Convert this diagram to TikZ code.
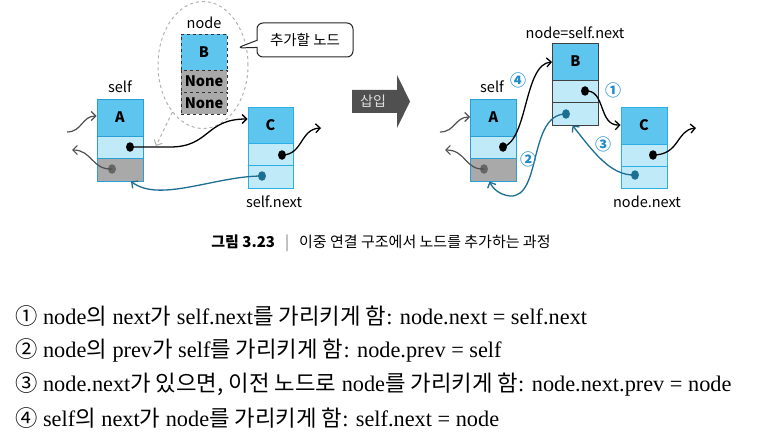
\documentclass[tikz,border=0pt]{standalone}
\usepackage{fontspec}
\setmainfont{Liberation Serif}
\newfontfamily\krf{Noto Sans CJK KR}
\newfontfamily\dg{Noto Sans CJK KR}
\usetikzlibrary{arrows.meta,shapes.geometric,shapes.callouts,calc}
\definecolor{topblue}{HTML}{5EC6EE}
\definecolor{midblue}{HTML}{C0EAF8}
\definecolor{cellgray}{HTML}{A9A9A9}
\definecolor{bordblue}{HTML}{2A9ED6}
\definecolor{bordcyan}{HTML}{2AB0E6}
\definecolor{tealc}{HTML}{1C6E92}
\definecolor{darkl}{HTML}{505050}
\definecolor{insg}{HTML}{505050}
\definecolor{numblue}{HTML}{1F8CC6}
\newcommand\K[1]{{\krf #1}}
\begin{document}
\begin{tikzpicture}[x=1pt,y=-1pt,
  cellbase/.style={rectangle, minimum width=46pt, inner sep=0pt, line width=0.9pt, draw=#1, font=\dg\bfseries\fontsize{14.5}{14}\selectfont},
  topc/.style={cellbase=#1, fill=topblue, minimum height=37pt},
  midc/.style={cellbase=#1, fill=midblue, minimum height=22pt},
  grc/.style={cellbase=#1, fill=cellgray, minimum height=23pt},
  dotb/.style={ellipse, fill=black, minimum width=8pt, minimum height=9.5pt, inner sep=0pt},
  dotg/.style={dotb, fill=gray!80!black},
  dott/.style={dotb, fill=tealc},
  tip/.style={-{Straight Barb[length=4.5pt,width=9pt]}},
  nextarr/.style={tip, line width=1.3pt, black},
  backarr/.style={tip, line width=1.3pt, tealc},
  outarr/.style={tip, line width=1.2pt, darkl},
  lab/.style={font=\dg\fontsize{14.5}{14}\selectfont, inner sep=0pt},
  num/.style={font=\krf\bfseries\fontsize{16}{16}\selectfont, text=numblue, inner sep=0pt},
  bodyl/.style={anchor=west, inner sep=0pt, font=\fontsize{22.3}{22}\selectfont}
]
\useasboundingbox[fill=white] (0,0) rectangle (757,441);

% ---------- left diagram ----------
\node[draw=gray!60, dashed, line width=1pt, ellipse, minimum width=90pt, minimum height=127pt] (ell) at (203,65) {};
\node[lab] (lnode) at (204,23) {node};
\node[topc=black!80, dashed] (B1) at (204,52.5) {B};
\node[grc=black!80, dashed, minimum height=22pt] (B2) at (204,81) {None};
\node[grc=black!80, dashed, minimum height=22pt] (B3) at (204,103) {None};

\node[lab] (lself) at (120,87) {self};
\node[topc=bordblue] (A1) at (120,117.5) {A};
\node[midc=bordblue] (A2) at (120,147) {};
\node[grc=bordblue] (A3) at (120,169.5) {};

\node[topc=bordcyan, minimum width=45pt, minimum height=36pt] (C1) at (270.5,125) {C};
\node[midc=bordcyan, minimum width=45pt] (C2) at (270.5,154) {};
\node[midc=bordcyan, minimum width=45pt, minimum height=23pt] (C3) at (270.5,176.5) {};
\node[lab] (lsn) at (274,202) {self.next};

\node[draw=black!85, line width=1pt, rectangle callout, rounded corners=6pt, fill=white,
      minimum width=96pt, minimum height=34pt, callout absolute pointer={(237,48)},
      font=\dg\fontsize{14.5}{14}\selectfont] (call) at (305,40) {추가할 노드};

\node[dotb] (dAn) at (130,147) {};
\node[dotg] (dAp) at (112,169) {};
\node[dotb] (dCn) at (282,155) {};
\node[dott] (dCp) at (262,176) {};

\coordinate (inA) at (67,132);
\coordinate (outA) at (72,150);
\coordinate (outC) at (321,128);
\coordinate (tipDash) at (156,146);

\draw[outarr] (inA) .. controls (82,132) and (82,116) .. ([yshift=1.5pt]A1.west);
\draw[outarr] (dAp.center) .. controls (92,170) and (92,150) .. (outA);
\draw[nextarr] (dAn.center) -- (170,147) .. controls (210,147) and (205,119) .. ([yshift=6pt]C1.west);
\draw[nextarr] (dCn.center) .. controls (303,155) and (300,129) .. (outC);
\draw[backarr] (dCp.center) .. controls (215,176) and (160,203) .. ([xshift=11pt]A3.south);
\draw[tip, dashed, gray!60, line width=1pt] (ell.237) -- (tipDash);

% ---------- insert arrow ----------
\fill[insg] (352,90) -- (397,90) -- (397,75) -- (410,101.5) -- (397,128) -- (397,113) -- (352,113) -- cycle;
\node[font=\krf\fontsize{14}{14}\selectfont, text=gray!25, inner sep=0pt] (ins) at (373,101.5) {삽입};

% ---------- right diagram ----------
\node[lab] (lnsn) at (575,33) {node=self.next};
\node[topc=black!75] (Q1) at (575.5,61.5) {B};
\node[midc=black!75] (Q2) at (575.5,91) {};
\node[midc=black!75, minimum height=23pt] (Q3) at (575.5,113.5) {};

\node[lab] (rself) at (492,87) {self};
\node[topc=bordblue] (P1) at (493.5,117.5) {A};
\node[midc=bordblue] (P2) at (493.5,147) {};
\node[grc=bordblue] (P3) at (493.5,169.5) {};

\node[topc=bordcyan] (R1) at (644,125.5) {C};
\node[midc=bordcyan] (R2) at (644,155) {};
\node[midc=bordcyan] (R3) at (644,177) {};
\node[lab] (lnn) at (647,202) {node.next};

\node[dotb] (dPn) at (503,147) {};
\node[dotg] (dPp) at (484,169) {};
\node[dotb] (dQn) at (585,91) {};
\node[dott] (dQp) at (566,114) {};
\node[dotb] (dRn) at (653,155) {};
\node[dott] (dRp) at (635,175) {};

\coordinate (inP) at (440,132);
\coordinate (outP) at (445,150);
\coordinate (outR) at (696,128);

\draw[outarr] (inP) .. controls (455,132) and (455,117) .. ([yshift=0.5pt]P1.west);
\draw[outarr] (dPp.center) .. controls (465,170) and (466,150) .. (outP);
\draw[nextarr] (dPn.center) .. controls (528,140) and (524,64) .. ([yshift=-0.5pt]Q1.west);
\draw[nextarr] (dQn.center) .. controls (606,89) and (598,126) .. ([yshift=0.5pt]R1.west);
\draw[backarr] (dQp.center) .. controls (528,114) and (542,198) .. (510,196) .. controls (500,195) and (493,189) .. ([xshift=-4pt]P3.south);
\draw[backarr] (dRp.center) .. controls (610,176) and (592,150) .. ([xshift=-3pt]Q3.south);
\draw[nextarr] (dRn.center) .. controls (680,155) and (676,130) .. (outR);

\node[num] (n4) at (518,80) {④};
\node[num] (n1) at (613,90) {①};
\node[num] (n3) at (603,144) {③};
\node[num] (n2) at (528,159) {②};

% ---------- caption ----------
\node[font=\krf\fontsize{15}{15}\selectfont, inner sep=0pt] (cap) at (381,243)
  {{\bfseries 그림 3.23}\hspace{10pt}{\color{gray}|}\hspace{10pt}이중 연결 구조에서 노드를 추가하는 과정};

% ---------- body text ----------
\node[bodyl] (t1) at (15,316) {\K{①} node\K{의} next\K{가} self.next\K{를 가리키게 함}: node.next = self.next};
\node[bodyl] (t2) at (15,350) {\K{②} node\K{의} prev\K{가} self\K{를 가리키게 함}: node.prev = self};
\node[bodyl] (t3) at (15,384) {\K{③} node.next\K{가 있으면, 이전 노드로} node\K{를 가리키게 함}: node.next.prev = node};
\node[bodyl] (t4) at (15,418) {\K{④} self\K{의} next\K{가} node\K{를 가리키게 함}: self.next = node};
\end{tikzpicture}
\end{document}
